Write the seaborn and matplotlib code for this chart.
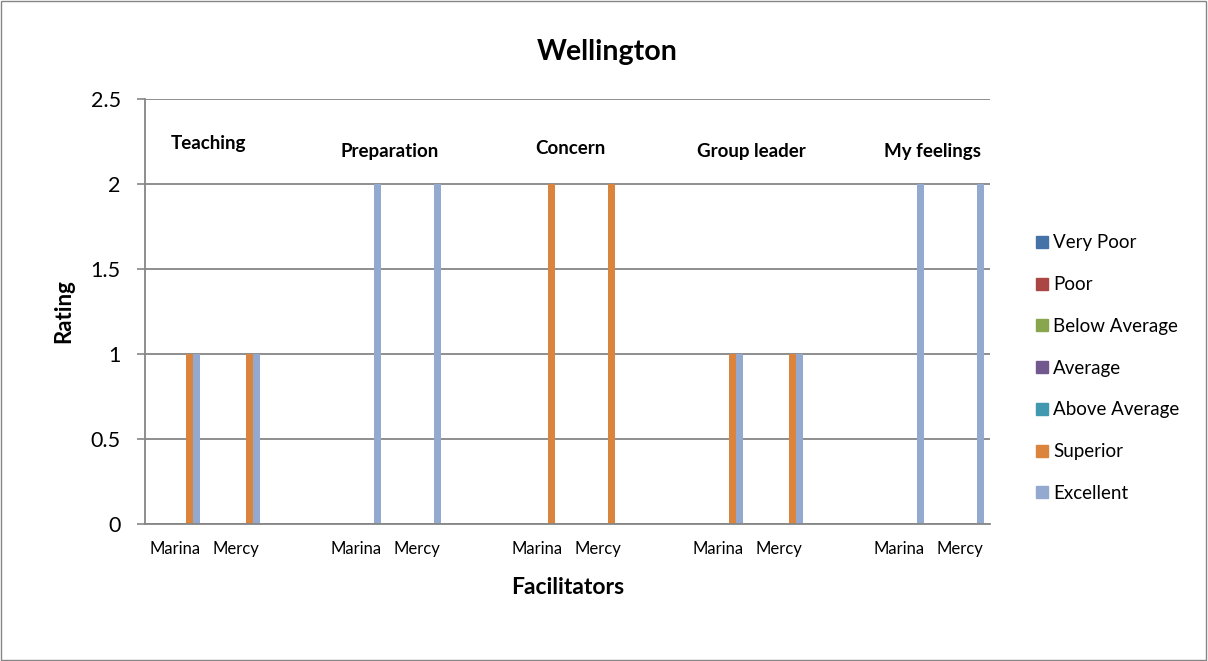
import pandas as pd
import matplotlib
matplotlib.use("Agg")
import matplotlib.pyplot as plt
import seaborn as sns
from matplotlib.patches import Rectangle
from matplotlib.lines import Line2D

# -----------------------
# Data
# -----------------------
groups = ["Teaching", "Preparation", "Concern", "Group leader", "My feelings"]
facilitators = ["Marina", "Mercy"]
ratings = ["Very Poor", "Poor", "Below Average", "Average",
           "Above Average", "Superior", "Excellent"]

# rating counts per group (same for Marina and Mercy)
superior = [1, 0, 2, 1, 0]
excellent = [1, 2, 0, 1, 2]

colors = ["#4572A7", "#AA4643", "#89A54E", "#71588F",
          "#4198AF", "#DB843D", "#93A9CF"]

# -----------------------
# Build long table (blank slot after each group, as in the sheet)
# -----------------------
rows = []
order = []
tick_labels = []
for gi, g in enumerate(groups):
    for f in facilitators:
        cat = g + "|" + f
        order.append(cat)
        tick_labels.append(f)
        for r in ratings:
            if r == "Superior":
                v = superior[gi]
            elif r == "Excellent":
                v = excellent[gi]
            else:
                v = 0
            rows.append({"cat": cat, "rating": r, "value": v})
    if gi < len(groups) - 1:
        blank = "blank" + str(gi)
        order.append(blank)
        tick_labels.append("")
        for r in ratings:
            rows.append({"cat": blank, "rating": r, "value": 0})

df = pd.DataFrame(rows)

# -----------------------
# Plot
# -----------------------
sns.set_style("white")
plt.rcParams["font.family"] = ["Lato", "DejaVu Sans"]
plt.rcParams["text.color"] = "black"
plt.rcParams["xtick.labelcolor"] = "black"
plt.rcParams["ytick.labelcolor"] = "black"

fig = plt.figure(figsize=(12.08, 6.61), dpi=100)
ax = fig.add_axes([0.12, 0.2073, 0.6995, 0.6427])

sns.barplot(
    data=df, x="cat", y="value", hue="rating",
    order=order, hue_order=ratings, palette=colors,
    width=0.81, saturation=1, errorbar=None, ax=ax, legend=False
)

for p in ax.patches:
    p.set_edgecolor("none")

ax.set_xlim(-0.5, len(order) - 0.5)
ax.set_ylim(0, 2.5)
ax.set_yticks([0, 0.5, 1, 1.5, 2, 2.5])
ax.set_yticklabels(["0", "0.5", "1", "1.5", "2", "2.5"], fontsize=15.5)
ax.set_xticks(range(len(order)))
ax.set_xticklabels(tick_labels, fontsize=12)
ax.tick_params(axis="x", length=0, pad=12)
ax.tick_params(axis="y", length=5.5, width=1.2, color="#868686", pad=12, left=True)

ax.yaxis.grid(True, color="#868686", linewidth=1.3)
ax.set_axisbelow(True)
for side in ["top", "right"]:
    ax.spines[side].set_visible(False)
ax.spines["left"].set_color("#868686")
ax.spines["bottom"].set_color("#868686")
ax.spines["left"].set_linewidth(1.3)
ax.spines["bottom"].set_linewidth(1.3)
ax.set_xlabel("")
ax.set_ylabel("")

fig.text(607 / 1208, 1 - 52 / 661, "Wellington", ha="center", va="center",
         fontsize=20.5, fontweight="bold")
fig.text(567.5 / 1208, 1 - 588 / 661, "Facilitators", ha="center", va="center",
         fontsize=16.5, fontweight="bold")
fig.text(64 / 1208, 1 - 311 / 661, "Rating", ha="center", va="center",
         rotation=90, fontsize=16, fontweight="bold")

# group labels
label_y = [2.24, 2.19, 2.21, 2.19, 2.19]
for gi, g in enumerate(groups):
    x = gi * 3 + 0.55
    ax.text(x, label_y[gi], g, ha="center", va="center",
            fontsize=13.5, fontweight="bold")

# legend
handles = [Line2D([0], [0], marker="s", linestyle="none", markersize=8.5,
                  markerfacecolor=c, markeredgecolor=c) for c in colors]
fig.legend(handles, ratings, loc="center left", bbox_to_anchor=(0.841, 0.443),
           frameon=False, fontsize=13.5, labelspacing=1.32,
           handletextpad=0.1, handlelength=1.0)

# chart border
fig.patches.append(Rectangle((0.001, 0.001), 0.997, 0.997, transform=fig.transFigure,
                             fill=False, edgecolor="#868686", linewidth=1))

fig.savefig("out.png", dpi=100)
